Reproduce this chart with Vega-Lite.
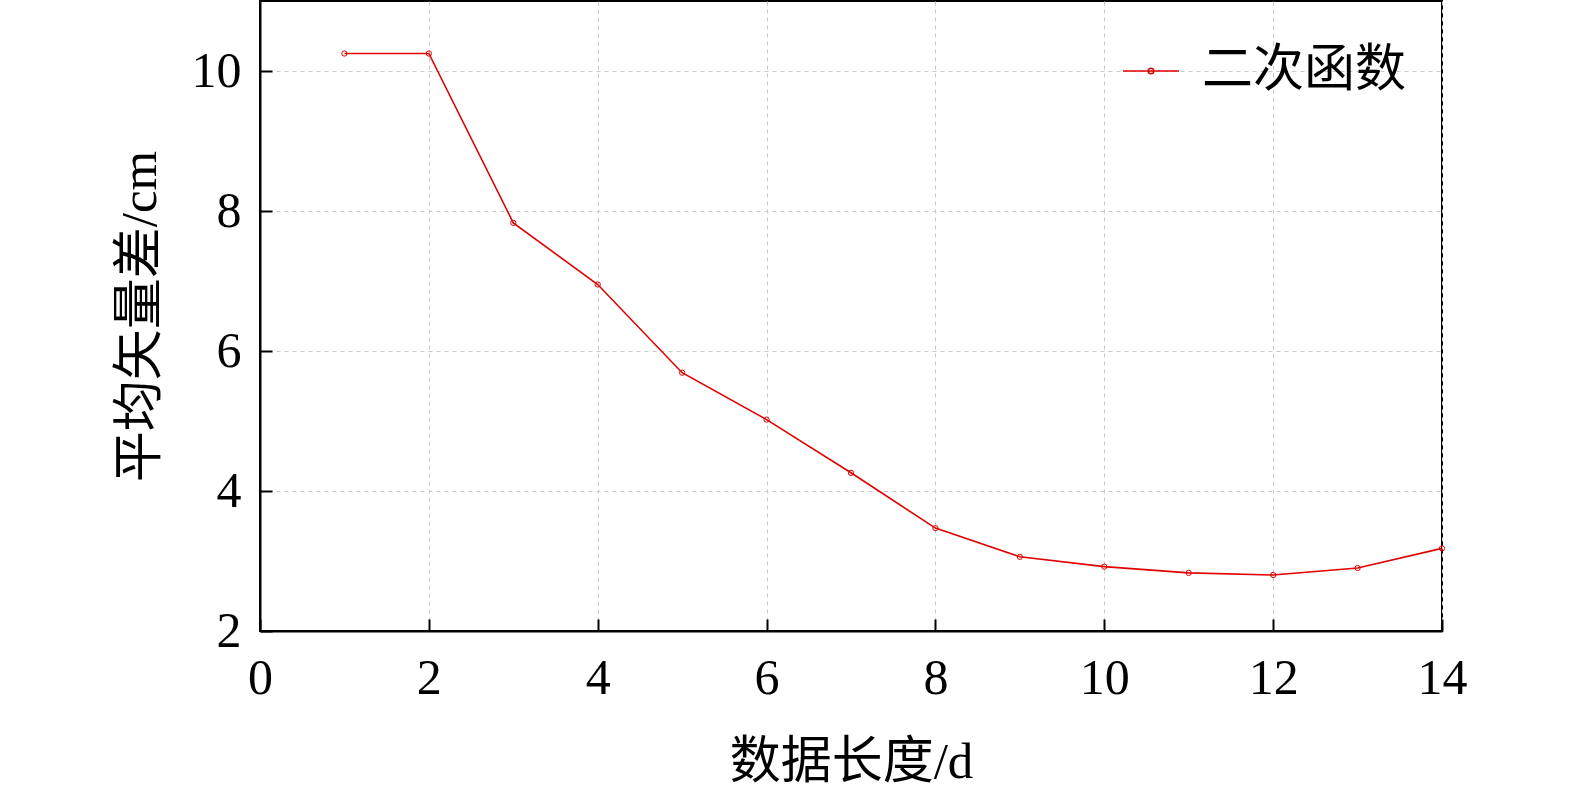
{
  "$schema": "https://vega.github.io/schema/vega-lite/v6.json",
  "autosize": "none",
  "width": 1182,
  "height": 630,
  "padding": {"left": 260, "top": 1, "right": 133, "bottom": 161},
  "background": "white",
  "config": {
    "view": {"stroke": "black", "strokeWidth": 2},
    "font": "Liberation Serif, Noto Sans CJK SC"
  },
  "data": {
    "values": [
      {"d": 1, "v": 10.25, "s": "二次函数"},
      {"d": 2, "v": 10.25, "s": "二次函数"},
      {"d": 3, "v": 7.83, "s": "二次函数"},
      {"d": 4, "v": 6.95, "s": "二次函数"},
      {"d": 5, "v": 5.69, "s": "二次函数"},
      {"d": 6, "v": 5.02, "s": "二次函数"},
      {"d": 7, "v": 4.26, "s": "二次函数"},
      {"d": 8, "v": 3.47, "s": "二次函数"},
      {"d": 9, "v": 3.06, "s": "二次函数"},
      {"d": 10, "v": 2.92, "s": "二次函数"},
      {"d": 11, "v": 2.83, "s": "二次函数"},
      {"d": 12, "v": 2.8, "s": "二次函数"},
      {"d": 13, "v": 2.9, "s": "二次函数"},
      {"d": 14, "v": 3.18, "s": "二次函数"}
    ]
  },
  "mark": {
    "type": "line",
    "strokeWidth": 1.6,
    "point": {"filled": false, "size": 28, "strokeWidth": 1, "color": "#e00000"}
  },
  "encoding": {
    "x": {
      "field": "d",
      "type": "quantitative",
      "scale": {"domain": [0, 14], "nice": false, "zero": false},
      "axis": {
        "values": [0, 2, 4, 6, 8, 10, 12, 14],
        "title": "数据长度/d",
        "titleFont": "Liberation Serif, Noto Sans CJK SC",
        "titleFontSize": 51,
        "titleFontWeight": "normal",
        "titleColor": "black",
        "titlePadding": 34,
        "labelFont": "Liberation Serif",
        "labelFontSize": 50,
        "labelColor": "black",
        "labelPadding": 34,
        "labelFlush": false,
        "domainColor": "black",
        "domainWidth": 2,
        "tickColor": "black",
        "tickWidth": 2,
        "tickSize": -12,
        "grid": true,
        "gridColor": "#c8c8c8",
        "gridDash": [4, 4],
        "gridWidth": 1
      }
    },
    "y": {
      "field": "v",
      "type": "quantitative",
      "scale": {"domain": [2, 11], "nice": false, "zero": false},
      "axis": {
        "values": [2, 4, 6, 8, 10],
        "title": "平均矢量差/cm",
        "titleFont": "Liberation Serif, Noto Sans CJK SC",
        "titleFontSize": 51,
        "titleFontWeight": "normal",
        "titleColor": "black",
        "titlePadding": 25,
        "labelFont": "Liberation Serif",
        "labelFontSize": 50,
        "labelColor": "black",
        "labelPadding": 31,
        "labelFlush": false,
        "domainColor": "black",
        "domainWidth": 2,
        "tickColor": "black",
        "tickWidth": 2,
        "tickSize": -12,
        "grid": true,
        "gridColor": "#c8c8c8",
        "gridDash": [4, 4],
        "gridWidth": 1
      }
    },
    "color": {
      "field": "s",
      "type": "nominal",
      "scale": {"range": ["#e00000"]},
      "legend": {
        "title": null,
        "orient": "none",
        "legendX": 862,
        "legendY": 41,
        "symbolType": "M -1 0 L 1 0 M 0.1 0 A 0.1 0.1 0 1 1 -0.1 0 A 0.1 0.1 0 1 1 0.1 0",
        "symbolSize": 3136,
        "symbolStrokeWidth": 1.5,
        "symbolStrokeColor": "#e00000",
        "symbolFillColor": "transparent",
        "labelFont": "Liberation Serif, Noto Sans CJK SC",
        "labelFontSize": 51,
        "labelColor": "black",
        "labelOffset": 22,
        "labelLimit": 400
      }
    }
  }
}
